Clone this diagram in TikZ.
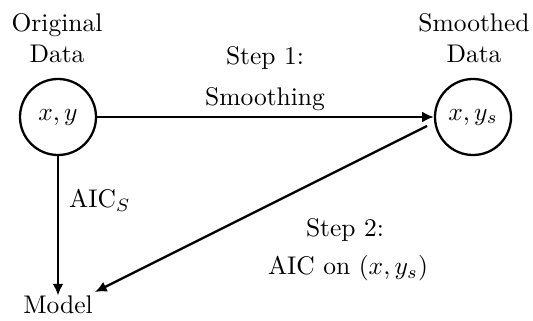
\documentclass[tikz,border=0pt]{standalone}
\usetikzlibrary{arrows.meta}
\begin{document}
\begin{tikzpicture}[x=0.392pt,y=-0.392pt,
  datanode/.style={circle,draw,line width=0.9pt,minimum size=29.8pt,inner sep=0pt},
  txt/.style={inner sep=0pt,align=center},
  conn/.style={line width=0.9pt,-{Latex[length=4.6pt,width=4.3pt]}}]
\useasboundingbox (0,0) rectangle (533,320);
\node[datanode] (xy) at (58,117) {$x,y$};
\node[datanode] (xys) at (473,117) {$x,y_s$};
\node[txt] (orig) at (57,38) {Original\\Data};
\node[txt] (smo) at (474,38) {Smoothed\\Data};
\node[txt] (model) at (58,305) {Model};
\node[txt] (s1a) at (265,58) {Step 1:};
\node[txt] (s1b) at (265,99) {Smoothing};
\node[txt] (aic) at (100,200) {AIC$_S$};
\node[txt] (s2a) at (345,230) {Step 2:};
\node[txt] (s2b) at (348,268) {AIC on $(x,y_s)$};
\coordinate (d1) at (427,126);
\coordinate (d2) at (95,292);
\draw[conn] (xy) -- (xys);
\draw[conn] (xy) -- (model);
\draw[conn] (d1) -- (d2);
\end{tikzpicture}
\end{document}
